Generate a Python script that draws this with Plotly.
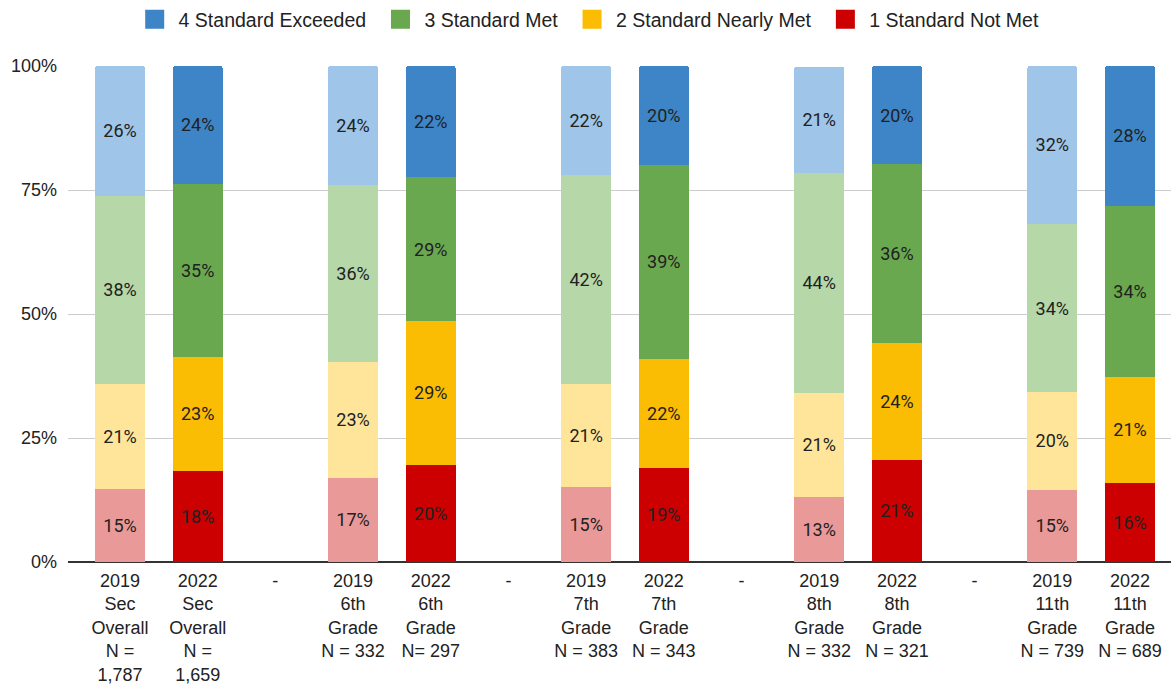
import plotly.graph_objects as go

# Category positions: pairs of 2019/2022 bars separated by "-" spacer slots
tick_labels = [
    "2019<br>Sec<br>Overall<br>N =<br>1,787",
    "2022<br>Sec<br>Overall<br>N =<br>1,659",
    "-",
    "2019<br>6th<br>Grade<br>N = 332",
    "2022<br>6th<br>Grade<br>N= 297",
    "-",
    "2019<br>7th<br>Grade<br>N = 383",
    "2022<br>7th<br>Grade<br>N = 343",
    "-",
    "2019<br>8th<br>Grade<br>N = 332",
    "2022<br>8th<br>Grade<br>N = 321",
    "-",
    "2019<br>11th<br>Grade<br>N = 739",
    "2022<br>11th<br>Grade<br>N = 689",
]
positions = list(range(len(tick_labels)))
years = ["2019", "2022", None] * 4 + ["2019", "2022"]

y_tick_vals = [0, 25, 50, 75, 100]
y_tick_text = ["0%", "25%", "50%", "75%", "100%"]

# Percent of students at each achievement level (spacer slots are empty)
not_met = [14.7, 18.3, None, 17.0, 19.6, None, 15.1, 19.0, None, 13.1, 20.6, None, 14.6, 16.0]
nearly_met = [21.2, 23.1, None, 23.4, 29.0, None, 20.7, 22.0, None, 21.0, 23.6, None, 19.6, 21.4]
met = [37.9, 34.9, None, 35.6, 29.0, None, 42.2, 39.0, None, 44.4, 36.0, None, 34.0, 34.4]
exceeded = [26.2, 23.7, None, 24.0, 22.4, None, 22.0, 20.0, None, 21.4, 19.8, None, 31.8, 28.2]

series = [
    ("1 Standard Not Met", not_met, "#cc0000", "#ea9999"),
    ("2 Standard Nearly Met", nearly_met, "#fbbc04", "#ffe599"),
    ("3 Standard Met", met, "#6aa84f", "#b6d7a8"),
    ("4 Standard Exceeded", exceeded, "#3d85c6", "#9fc5e8"),
]

AXIS_FONT = "Liberation Sans, Arial, sans-serif"
TEXT_COLOR = "#222222"

fig = go.Figure()
for name, vals, dark, light in series:
    colors = [light if y == "2019" else dark for y in years]
    fig.add_trace(go.Bar(
        x=positions, y=vals, name=name,
        marker=dict(color=colors, line=dict(width=0)),
        texttemplate="%{y:.0f}%", textposition="inside",
        insidetextanchor="middle", textangle=0, constraintext="none",
        textfont=dict(family="Roboto", size=18, color="#212121"),
        showlegend=False, hoverinfo="skip",
    ))

# Legend entries (dark swatches), listed highest level first
for name, vals, dark, light in reversed(series):
    fig.add_trace(go.Scatter(
        x=[None], y=[None], mode="markers",
        name="\u2009" + name + "\u00a0\u2009",
        marker=dict(symbol="square", size=16, color=dark,
                    line=dict(width=3, color=dark)),
    ))

fig.update_layout(
    width=1171, height=688,
    barmode="stack", bargap=0.356,
    barcornerradius=3,
    paper_bgcolor="white", plot_bgcolor="white",
    margin=dict(l=68, r=0, t=66, b=126),
    font=dict(family=AXIS_FONT, size=18, color=TEXT_COLOR),
    legend=dict(
        orientation="h", xref="container", x=0.507, xanchor="center",
        yref="container", y=1.0, yanchor="top",
        font=dict(family=AXIS_FONT, size=19.5, color=TEXT_COLOR),
        itemclick=False, traceorder="normal",
    ),
    xaxis=dict(
        range=[-0.669, 13.528], tickmode="array",
        tickvals=positions, ticktext=tick_labels,
        showgrid=False, zeroline=False, showline=False, ticks="",
        ticklabelstandoff=6,
        tickfont=dict(family=AXIS_FONT, size=18, color=TEXT_COLOR),
    ),
    yaxis=dict(
        range=[0, 100], tickmode="array",
        tickvals=y_tick_vals, ticktext=y_tick_text,
        showgrid=True, gridcolor="#cccccc", gridwidth=1,
        zeroline=True, zerolinecolor="#333333", zerolinewidth=2,
        showline=False, ticks="", ticklabelstandoff=10,
        tickfont=dict(family=AXIS_FONT, size=18, color=TEXT_COLOR),
    ),
)

fig.write_html("out.html")
